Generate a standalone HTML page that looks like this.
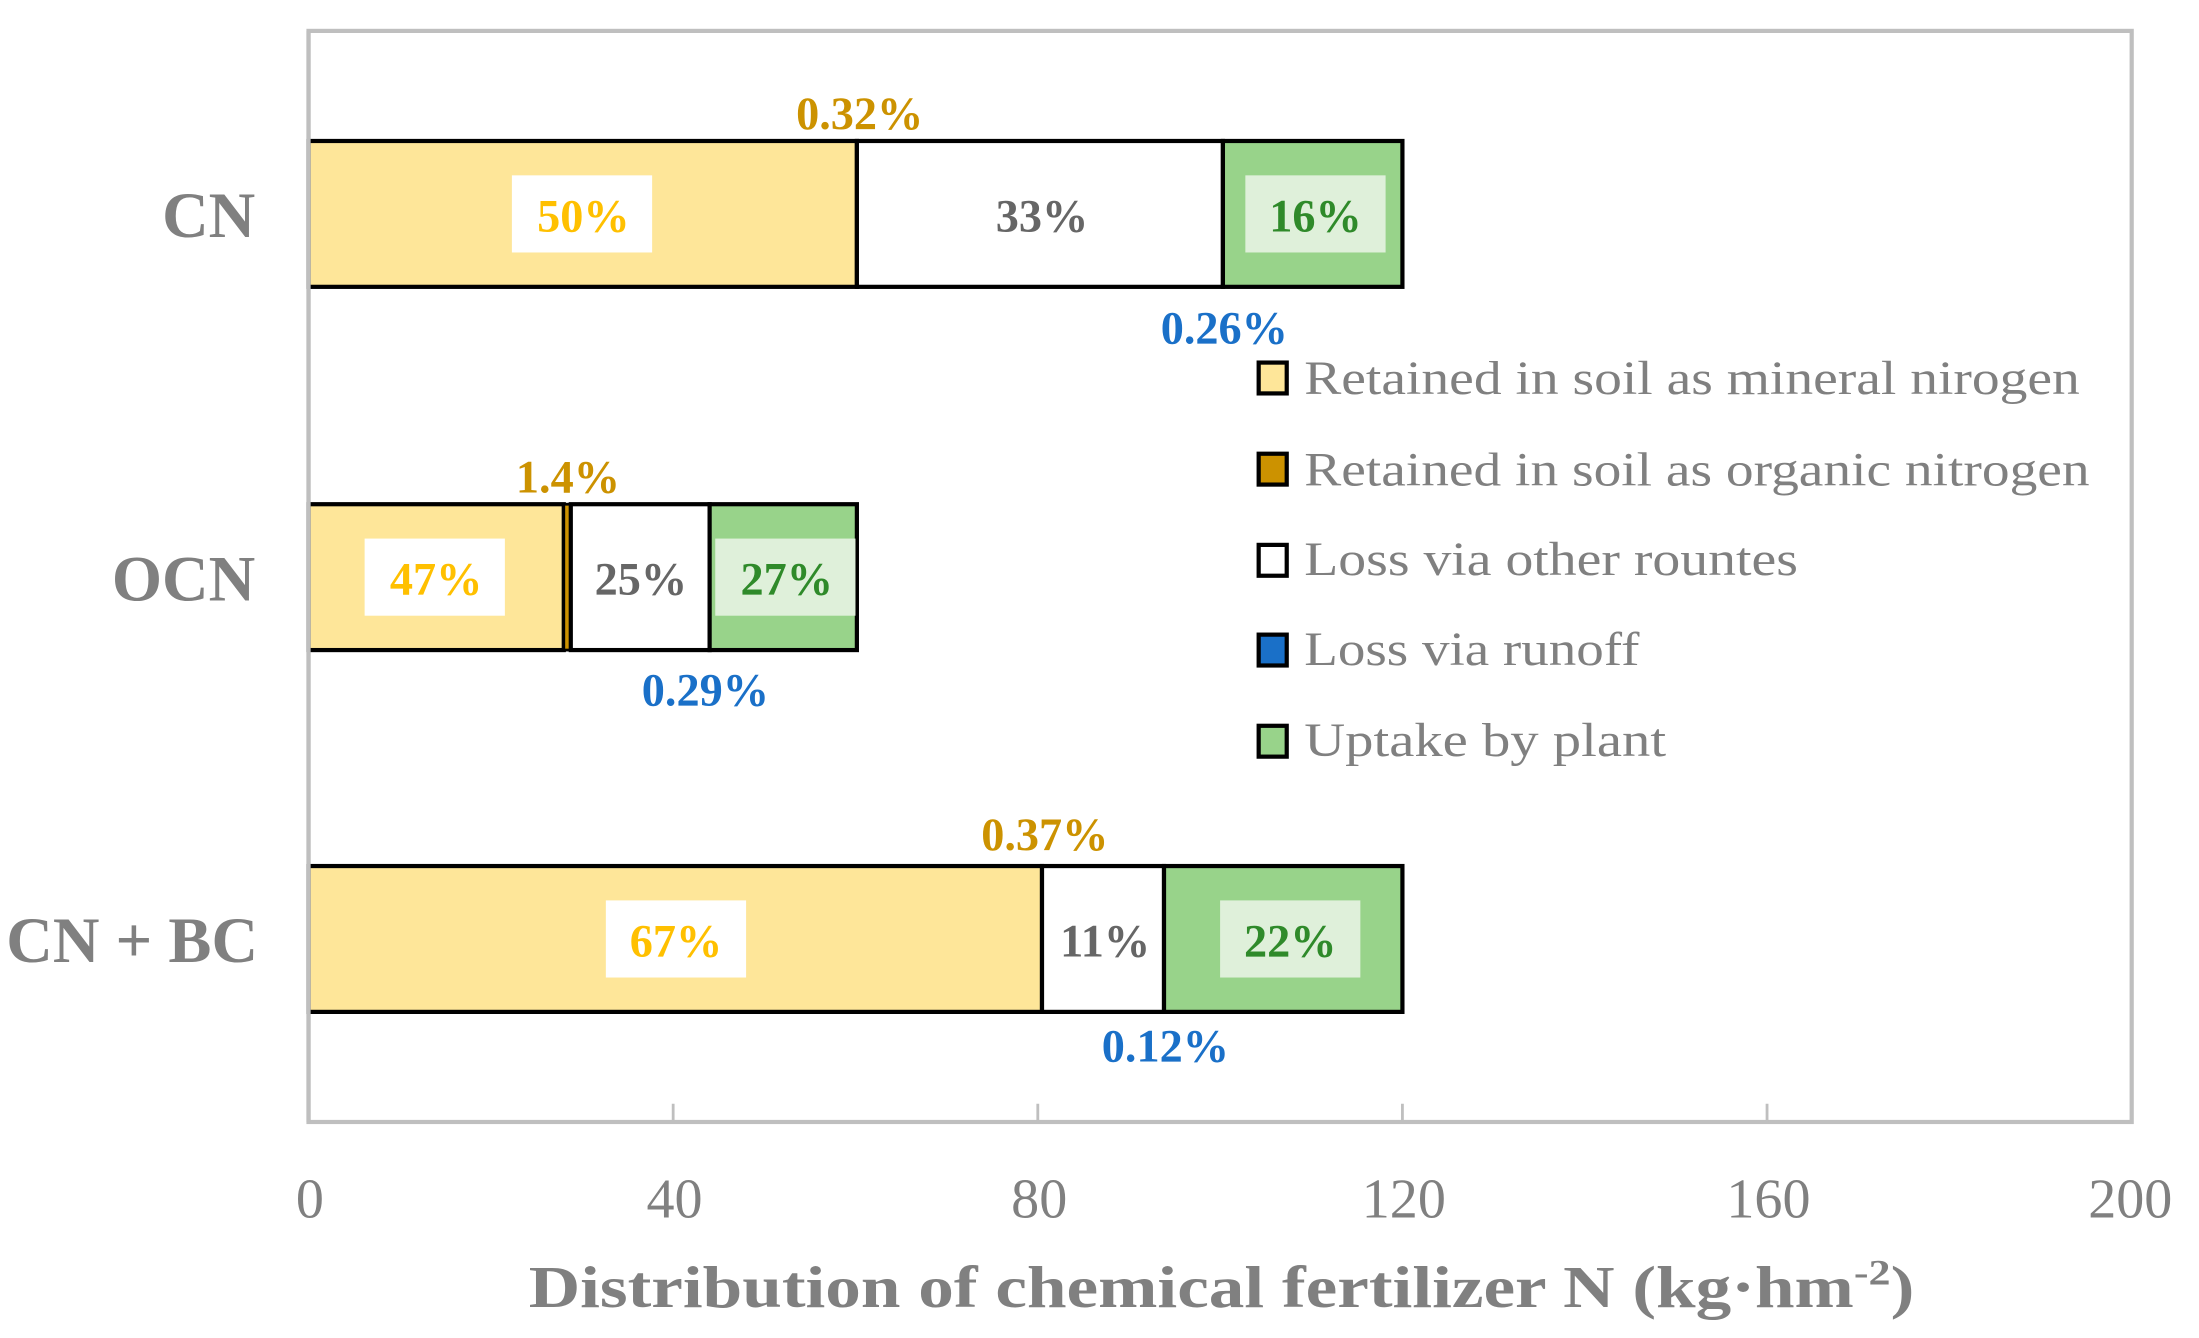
<!DOCTYPE html>
<html><head><meta charset="utf-8"><style>html,body{margin:0;padding:0;background:#fff}svg{display:block}</style></head>
<body>
<svg width="2199" height="1338" viewBox="0 0 1568 954" xmlns="http://www.w3.org/2000/svg" font-family="'Liberation Serif',serif">
<rect width="1568" height="954" fill="#fff"/>
<rect x="220" y="22" width="1300" height="778" fill="none" stroke="#bfbfbf" stroke-width="3"/>
<g stroke="#bfbfbf" stroke-width="2">
<line x1="480" y1="787" x2="480" y2="800"/><line x1="740" y1="787" x2="740" y2="800"/><line x1="1000" y1="787" x2="1000" y2="800"/><line x1="1260" y1="787" x2="1260" y2="800"/>
</g>
<g stroke="#000" stroke-width="3">
<rect x="220" y="100.5" width="391" height="104" fill="#fee699"/>
<rect x="611" y="100.5" width="261" height="104" fill="#fff"/>
<rect x="872" y="100.5" width="128" height="104" fill="#98d38a"/>
<rect x="220" y="359.5" width="182" height="104" fill="#fee699"/>
<rect x="402" y="359.5" width="5" height="104" fill="#cc9200" stroke-width="2"/>
<rect x="407" y="359.5" width="99" height="104" fill="#fff"/>
<rect x="506" y="359.5" width="105" height="104" fill="#98d38a"/>
<rect x="220" y="617.5" width="523" height="104" fill="#fee699"/>
<rect x="743" y="617.5" width="87" height="104" fill="#fff"/>
<rect x="830" y="617.5" width="170" height="104" fill="#98d38a"/>
</g>
<line x1="220" y1="22" x2="220" y2="800" stroke="#bfbfbf" stroke-width="3"/>
<rect x="365" y="125" width="100" height="55" fill="#fff"/>
<rect x="888" y="125" width="100" height="55" fill="#dff0da"/>
<rect x="260" y="384" width="100" height="55" fill="#fff"/>
<rect x="510" y="384" width="100" height="55" fill="#dff0da"/>
<rect x="432" y="642" width="100" height="55" fill="#fff"/>
<rect x="870" y="642" width="100" height="55" fill="#dff0da"/>
<g font-weight="bold" font-size="33" text-anchor="middle">
<text x="416" y="165" fill="#ffc000">50%</text>
<text x="743" y="165" fill="#666">33%</text>
<text x="938" y="165" fill="#2f8a2a">16%</text>
<text x="311" y="424" fill="#ffc000">47%</text>
<text x="457" y="424" fill="#666">25%</text>
<text x="561" y="424" fill="#2f8a2a">27%</text>
<text x="482" y="682" fill="#ffc000">67%</text>
<text x="788" y="682" fill="#666">11%</text>
<text x="920" y="682" fill="#2f8a2a">22%</text>
<text x="613" y="92" fill="#cc9200">0.32%</text>
<text x="873" y="245" fill="#1a70c8">0.26%</text>
<text x="405" y="351" fill="#cc9200">1.4%</text>
<text x="503" y="503" fill="#1a70c8">0.29%</text>
<text x="745" y="606" fill="#cc9200">0.37%</text>
<text x="831" y="757" fill="#1a70c8">0.12%</text>
</g>
<g font-weight="bold" font-size="46" fill="#808080" text-anchor="end">
<text x="182" y="169">CN</text>
<text x="182" y="428">OCN</text>
<text x="184" y="686">CN + BC</text>
</g>
<g font-size="40" fill="#808080" text-anchor="middle">
<text x="221" y="868">0</text><text x="481" y="868">40</text><text x="741" y="868">80</text><text x="1001" y="868">120</text><text x="1261" y="868">160</text><text x="1519" y="868">200</text>
</g>
<text x="377" y="932" font-size="42" font-weight="bold" fill="#808080" textLength="988" lengthAdjust="spacingAndGlyphs">Distribution of chemical fertilizer N (kg·hm<tspan font-size="26" dy="-16">-2</tspan><tspan dy="16">)</tspan></text>
<g stroke="#000" stroke-width="3">
<rect x="897.5" y="258.5" width="20" height="22" fill="#fee699"/>
<rect x="897.5" y="323.5" width="20" height="22" fill="#cc9200"/>
<rect x="897.5" y="388.5" width="20" height="22" fill="#fff"/>
<rect x="897.5" y="452.5" width="20" height="22" fill="#1a70c8"/>
<rect x="897.5" y="517.5" width="20" height="22" fill="#98d38a"/>
</g>
<g font-size="34" fill="#808080">
<text x="930" y="281" textLength="553" lengthAdjust="spacingAndGlyphs">Retained in soil as mineral nirogen</text>
<text x="930" y="346" textLength="560" lengthAdjust="spacingAndGlyphs">Retained in soil as organic nitrogen</text>
<text x="930" y="410" textLength="352" lengthAdjust="spacingAndGlyphs">Loss via other rountes</text>
<text x="930" y="474" textLength="239" lengthAdjust="spacingAndGlyphs">Loss via runoff</text>
<text x="930" y="539" textLength="258" lengthAdjust="spacingAndGlyphs">Uptake by plant</text>
</g>
</svg>
</body></html>
